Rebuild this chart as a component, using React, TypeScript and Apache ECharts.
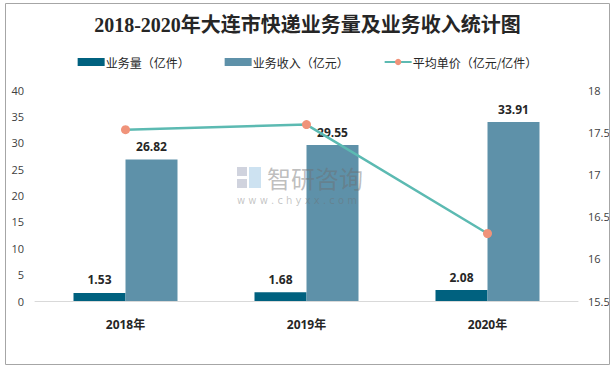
import React, { useEffect, useRef } from "react";
import * as echarts from "echarts";

const categories = ["2018年", "2019年", "2020年"];
const volume = [1.53, 1.68, 2.08];
const revenue = [26.82, 29.55, 33.91];
const unitPrice = [17.53, 17.59, 16.3];
const leftTicks = { min: 0, max: 40, interval: 5 };
const rightTicks = { min: 15.5, max: 18, interval: 0.5 };

export default function App() {
  const ref = useRef<HTMLDivElement>(null);
  useEffect(() => {
    document.body.style.margin = "0";
    const chart = echarts.init(ref.current!, null, { renderer: "svg" });
    const labelStyle = {
      show: true,
      position: "top" as const,
      distance: 7,
      fontSize: 12,
      fontWeight: "bold" as const,
      color: "#262626",
      fontFamily: "Open Sans, Noto Sans, sans-serif",
    };
    chart.setOption({
      animation: false,
      backgroundColor: "#ffffff",
      title: {
        text: "2018-2020年大连市快递业务量及业务收入统计图",
        left: "center",
        top: 10,
        textStyle: {
          fontSize: 20,
          fontWeight: "bold",
          color: "#262626",
          fontFamily: "Liberation Serif, Noto Sans CJK SC, serif",
        },
      },
      legend: {
        top: 51,
        left: "center",
        itemWidth: 27,
        itemHeight: 8,
        itemGap: 35,
        textStyle: {
          fontSize: 12,
          color: "#262626",
          fontFamily: "Noto Sans CJK SC, sans-serif",
          padding: [0, 0, 0, -4],
        },
        data: [
          { name: "业务量（亿件）", icon: "rect" },
          { name: "业务收入（亿元）", icon: "rect" },
          { name: "平均单价（亿元/亿件）" },
        ],
      },
      grid: { left: 35, right: 37, top: 90, bottom: 69, containLabel: false },
      xAxis: {
        type: "category",
        data: categories,
        axisLine: { show: true, lineStyle: { color: "#D9D9D9", width: 1 } },
        axisTick: { show: false },
        axisLabel: {
          fontSize: 12,
          fontWeight: "bold",
          color: "#262626",
          margin: 17,
          fontFamily: "Open Sans, Noto Sans CJK SC, sans-serif",
        },
      },
      yAxis: [
        {
          type: "value",
          ...leftTicks,
          axisLine: { show: false },
          axisTick: { show: false },
          splitLine: { show: false },
          axisLabel: {
            fontSize: 11,
            color: "#404040",
            margin: 11,
            fontFamily: "Open Sans, Noto Sans, sans-serif",
          },
        },
        {
          type: "value",
          ...rightTicks,
          axisLine: { show: false },
          axisTick: { show: false },
          splitLine: { show: false },
          axisLabel: {
            fontSize: 11,
            color: "#404040",
            margin: 10,
            fontFamily: "Open Sans, Noto Sans, sans-serif",
          },
        },
      ],
      series: [
        {
          name: "业务量（亿件）",
          type: "bar",
          data: volume,
          barWidth: 52,
          barGap: "0%",
          itemStyle: { color: "#00617F" },
          label: labelStyle,
        },
        {
          name: "业务收入（亿元）",
          type: "bar",
          data: revenue,
          barWidth: 52,
          barGap: "0%",
          itemStyle: { color: "#5E91A9" },
          label: labelStyle,
        },
        {
          name: "平均单价（亿元/亿件）",
          type: "line",
          yAxisIndex: 1,
          data: unitPrice,
          symbol: "circle",
          symbolSize: 9,
          lineStyle: { color: "#5CBAB2", width: 2.5 },
          itemStyle: { color: "#F0937A" },
          z: 5,
        },
      ],
      graphic: [
        {
          type: "rect",
          shape: { x: 5.5, y: 3.5, width: 604, height: 361 },
          style: { fill: "none", stroke: "#A6A6A6", lineWidth: 1 },
          silent: true,
          z: 100,
        },
        {
          type: "rect",
          shape: { x: 237, y: 167, width: 10, height: 9 },
          style: { fill: "rgba(120,130,160,0.35)" },
          silent: true,
          z: 100,
        },
        {
          type: "rect",
          shape: { x: 249, y: 167, width: 12, height: 21 },
          style: { fill: "rgba(90,160,210,0.3)" },
          silent: true,
          z: 100,
        },
        {
          type: "rect",
          shape: { x: 237, y: 179, width: 10, height: 9 },
          style: { fill: "rgba(120,130,160,0.35)" },
          silent: true,
          z: 100,
        },
        {
          type: "text",
          x: 267,
          y: 177,
          silent: true,
          z: 100,
          style: {
            text: "智研咨询",
            fontSize: 24,
            fill: "rgba(110,110,110,0.45)",
            fontFamily: "Noto Sans CJK SC, sans-serif",
            verticalAlign: "middle",
            align: "left",
          },
        },
        {
          type: "text",
          x: 237,
          y: 200,
          silent: true,
          z: 100,
          style: {
            text: "w w w . c h y x x . c o m",
            fontSize: 10,
            fill: "rgba(110,110,110,0.4)",
            fontFamily: "DejaVu Sans, sans-serif",
            verticalAlign: "middle",
            align: "left",
          },
        },
      ],
    });
    return () => chart.dispose();
  }, []);
  return (
    <div
      ref={ref}
      style={{ position: "fixed", left: 0, top: 0, width: 615, height: 370 }}
    />
  );
}
